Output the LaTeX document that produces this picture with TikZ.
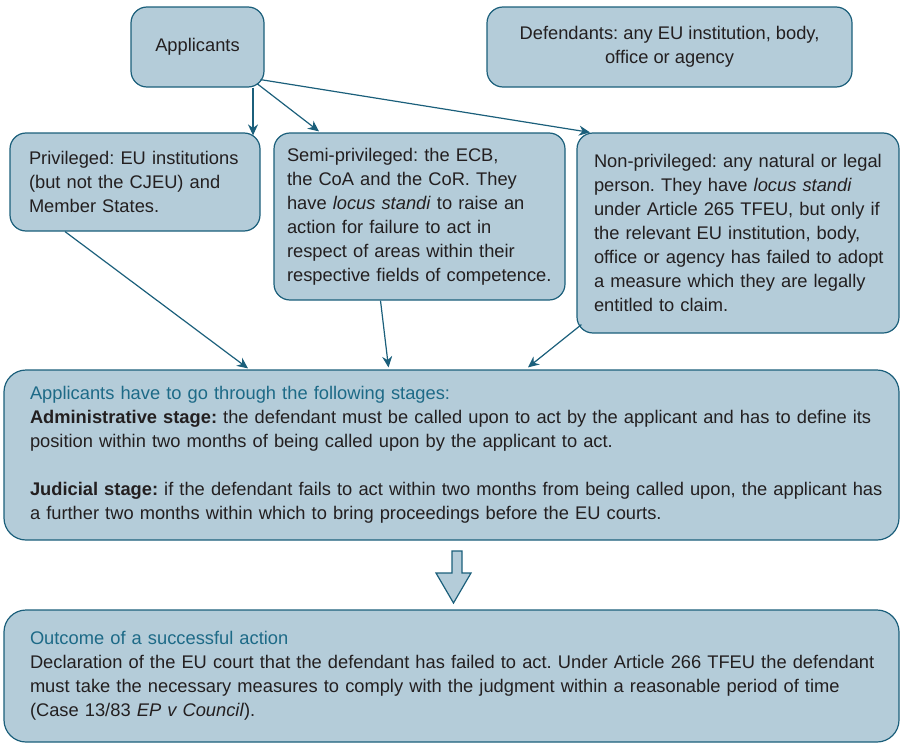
\documentclass[tikz,border=0pt]{standalone}
\usepackage{fontspec}
\setmainfont{Liberation Sans}
\usetikzlibrary{arrows.meta,calc}
\definecolor{boxfill}{HTML}{B4CCD9}
\definecolor{boxline}{HTML}{1B5F7B}
\definecolor{ink}{HTML}{231F20}
\definecolor{headink}{HTML}{1D6A87}
\frenchspacing
\begin{document}
\begin{tikzpicture}[x=1pt,y=-1pt,
  box/.style={draw=boxline, fill=boxfill, line width=1.2pt, rounded corners=16pt,
    text=ink, font=\fontsize{18.3}{24}\selectfont, inner ysep=0pt},
  bigbox/.style={box, rounded corners=22pt, inner xsep=26pt, text width=843pt, align=left},
  conn/.style={draw=boxline, line width=1.2pt, -{Stealth[length=11pt,width=10pt]}},
  head/.style={text=headink}]
\useasboundingbox (0,0) rectangle (900,744);

% top row
\node[box, minimum width=133pt, minimum height=80pt] (app) at (197.5,47) {Applicants};
\node[box, minimum width=365pt, minimum height=80pt, align=center] (def) at (669.5,47)
  {Defendants: any EU institution, body,\\office or agency};

% categories of applicants
\node[box, minimum width=250pt, minimum height=98pt, inner xsep=19pt, text width=212pt, align=left]
  (priv) at (135,182)
  {\mbox{Privileged: EU institutions}\\(but not the CJEU) and\\Member States.};
\node[box, minimum width=291pt, minimum height=167pt, inner xsep=13pt, text width=265pt, align=left]
  (semi) at (419.5,216.5)
  {Semi-privileged: the ECB,\\the CoA and the CoR. They\\have \textit{locus standi} to raise an\\action for failure to act in\\respect of areas within their\\\mbox{respective fields of competence.}};
\node[box, minimum width=322pt, minimum height=200pt, inner xsep=17pt, text width=288pt, align=left]
  (non) at (738,233)
  {\mbox{Non-privileged: any natural or legal}\\person. They have \textit{locus standi}\\under Article 265 TFEU, but only if\\the relevant EU institution, body,\\\mbox{office or agency has failed to adopt}\\a measure which they are legally\\entitled to claim.};

% procedure
\node[bigbox, minimum width=895pt, minimum height=170pt] (stages) at (451.5,455)
  {{\color{headink}Applicants have to go through the following stages:}\\
   \textbf{Administrative stage:} the defendant must be called upon to act by the applicant and has to define its\\
   position within two months of being called upon by the applicant to act.\\[24pt]
   \mbox{\textbf{Judicial stage:} if the defendant fails to act within two months from being called upon, the applicant has}\\
   a further two months within which to bring proceedings before the EU courts.};

% outcome
\node[bigbox, minimum width=895pt, minimum height=132pt] (out) at (451.5,676)
  {{\color{headink}Outcome of a successful action}\\
   \mbox{Declaration of the EU court that the defendant has failed to act. Under Article 266 TFEU the defendant}\\
   must take the necessary measures to comply with the judgment within a reasonable period of time\\
   (Case 13/83 \textit{EP v Council}).};

% block arrow between procedure and outcome
\draw[draw=boxline, fill=boxfill, line width=1.2pt, line join=miter]
  (452,551) -- (462,551) -- (462,573) -- (471,573) -- (453.5,603) -- (436,573) -- (452,573) -- cycle;

% connectors
\draw[conn] ([xshift=55.5pt]app.south) -- ([xshift=55.5pt,yshift=-3pt]app.south |- priv.north);
\draw[conn] ([xshift=59.5pt,yshift=4pt]app.south) -- ([xshift=-100.5pt,yshift=1pt]semi.north);
\draw[conn] ([xshift=63pt,yshift=8pt]app.south) -- ([xshift=-148pt]non.north);
\draw[conn] ([xshift=-70pt]priv.south) -- ([xshift=-203.5pt,yshift=1pt]stages.north);
\draw[conn] ([xshift=-39pt]semi.south) -- ([xshift=-63pt,yshift=2pt]stages.north);
\draw[conn] ([xshift=5pt,yshift=9pt]non.south west) -- ([xshift=76.5pt,yshift=2pt]stages.north);
\end{tikzpicture}
\end{document}
